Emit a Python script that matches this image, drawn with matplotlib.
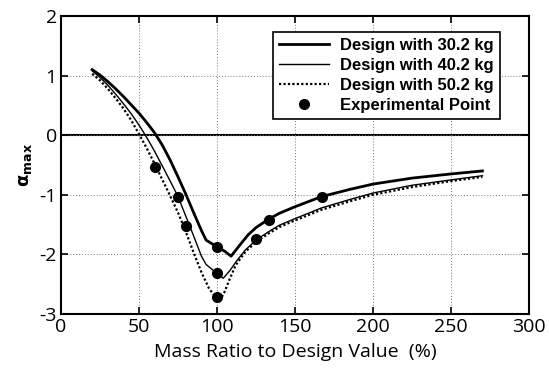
import matplotlib
matplotlib.use("Agg")
import matplotlib.pyplot as plt

# curves (x = mass ratio %, y = alpha_max)
x30 = [20, 25, 30, 35, 40, 45, 50, 55, 60, 65, 70, 75, 80, 85, 90, 93, 96, 100, 105, 109,
       115, 120, 125, 133, 140, 150, 167, 185, 200, 225, 250, 270]
y30 = [1.10, 1.01, 0.90, 0.78, 0.65, 0.51, 0.37, 0.21, 0.04, -0.17, -0.42, -0.70, -0.99,
       -1.30, -1.60, -1.76, -1.81, -1.87, -1.95, -2.03, -1.83, -1.67, -1.55, -1.41, -1.31,
       -1.20, -1.03, -0.91, -0.82, -0.72, -0.65, -0.60]

x40 = [20, 25, 30, 35, 40, 45, 50, 55, 60, 65, 70, 75, 80, 85, 90, 93, 100, 104, 108,
       112, 118, 125, 133, 140, 150, 167, 185, 200, 225, 250, 270]
y40 = [1.08, 0.97, 0.84, 0.69, 0.53, 0.36, 0.17, -0.04, -0.27, -0.52, -0.77, -1.03, -1.36,
       -1.69, -2.03, -2.17, -2.32, -2.40, -2.28, -2.13, -1.93, -1.76, -1.62, -1.51, -1.40,
       -1.22, -1.08, -0.97, -0.84, -0.75, -0.68]

x50 = [20, 25, 30, 35, 40, 45, 50, 55, 60, 65, 70, 75, 80, 85, 90, 95, 100, 102, 105, 108,
       112, 118, 125, 133, 140, 150, 167, 185, 200, 225, 250, 270]
y50 = [1.03, 0.92, 0.78, 0.62, 0.45, 0.25, 0.02, -0.22, -0.48, -0.75, -1.02, -1.30, -1.62,
       -1.97, -2.30, -2.58, -2.74, -2.77, -2.62, -2.42, -2.18, -1.96, -1.79, -1.65, -1.54,
       -1.43, -1.25, -1.11, -1.00, -0.87, -0.77, -0.70]

x_exp = [60, 75, 80, 100, 100, 100, 125, 133, 167]
y_exp = [-0.53, -1.03, -1.53, -1.87, -2.32, -2.72, -1.75, -1.42, -1.03]

xticks = [0, 50, 100, 150, 200, 250, 300]
yticks = [-3, -2, -1, 0, 1, 2]

plt.rcParams['font.family'] = ['Open Sans', 'DejaVu Sans']
plt.rcParams['axes.unicode_minus'] = False

fig = plt.figure(figsize=(5.49, 3.72), dpi=100)
ax = fig.add_axes([0.111, 0.156, 0.853, 0.801])

ax.plot(x30, y30, color='black', lw=2.0, label='Design with 30.2 kg')
ax.plot(x40, y40, color='black', lw=1.0, label='Design with 40.2 kg')
ax.plot(x50, y50, color='black', lw=1.6, ls=(0, (1, 1)), label='Design with 50.2 kg')
ax.plot(x_exp, y_exp, 'o', color='black', ms=7, label='Experimental Point', zorder=5)

ax.axhline(0, color='black', lw=1.5, zorder=1)

ax.set_xlim(0, 300)
ax.set_ylim(-3, 2)
ax.set_xticks(xticks)
ax.set_yticks(yticks)
ax.grid(True, color='#777777', ls=(0, (1, 2)), lw=0.7)
ax.tick_params(direction='in', length=5, width=1.2, top=True, right=True,
               labelsize=14, pad=3)
for s in ax.spines.values():
    s.set_linewidth(1.5)

ax.set_xlabel('Mass Ratio to Design Value  (%)', fontsize=14, labelpad=5)
ax.set_ylabel(r'$\mathbf{\alpha_{max}}$', fontsize=13, labelpad=4)

leg = ax.legend(loc='upper right', bbox_to_anchor=(0.937, 0.945),
                prop={'family': ['Liberation Sans'], 'weight': 'bold', 'size': 12},
                frameon=True, fancybox=False, handlelength=3.0, borderpad=0.35,
                labelspacing=0.3, handletextpad=0.7, borderaxespad=0)
leg.get_frame().set_edgecolor('black')
leg.get_frame().set_linewidth(1.2)
leg.get_frame().set_alpha(1)

fig.savefig('out.png', dpi=100)
